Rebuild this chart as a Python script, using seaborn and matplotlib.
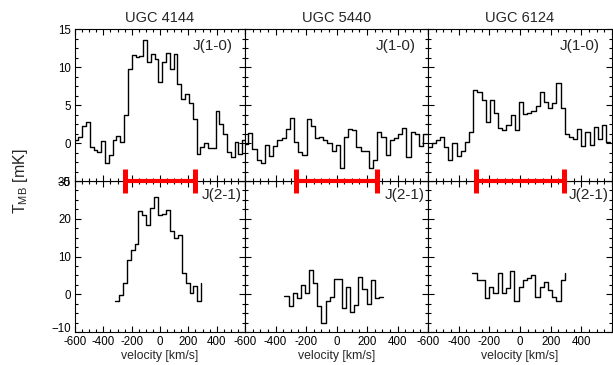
import numpy as np
import pandas as pd
import matplotlib
matplotlib.use("Agg")
import matplotlib.pyplot as plt
import matplotlib.transforms as mtransforms
import seaborn as sns
from matplotlib.ticker import MultipleLocator

# ---------------- data ----------------
galaxies = ["UGC 4144", "UGC 5440", "UGC 6124"]
lines = ["J(1-0)", "J(2-1)"]

# CO(1-0) spectra (mK), channel edges start at v_start with width dv
co10_4144_start, co10_4144_dv = -603, 26.9
co10_4144 = [0.44, 0.8, 2.2, 2.8, -0.5, -0.9, -1.2, 0.3, -2.6, -1.6, 0.4, 0.9, 0.1,
             3.7, 9.7, 11.6, 11.3, 11.4, 13.5, 10.7, 11.7, 11.0, 8.0, 10.6, 11.9, 9.7,
             11.7, 7.8, 5.8, 6.4, 5.2, 3.1, -1.4, -0.5, 0.0, -0.7, -0.7, 4.2, 2.5, 1.2,
             -1.2, -1.9, 0.1, -1.5, 0.4, 0.4]

co10_5440_start, co10_5440_dv = -606, 27.3
co10_5440 = [-0.1, 1.3, -0.75, -2.2, -2.6, -0.2, -1.7, -0.4, 0.35, 0.66, 1.8, 3.35, 0.13,
             -1.2, -1.6, 3.1, 2.2, 0.7, 0.8, 0.35, 0.0, -1.06, -0.2, -3.3, 0.8, 1.9, 1.75,
             -0.5, -1.0, -1.06, -3.3, -2.3, 1.45, 0.8, -1.6, 0.35, 0.7, 1.2, 2.0, -1.8,
             1.45, 1.2, -0.4, 1.2, 1.2]

co10_6124_start, co10_6124_dv = -603, 27.1
co10_6124 = [-0.5, 0.0, 0.44, 0.8, -0.5, -2.2, 0.0, -1.7, -1.0, 0.13, 1.5, 7.0, 6.75, 5.6,
             2.8, 5.6, 3.9, 2.0, 1.7, 2.4, 3.75, 1.7, 5.4, 3.8, 3.9, 4.2, 4.85, 6.75, 5.4,
             4.6, 5.3, 7.85, 4.6, 1.2, 0.8, 0.5, 1.9, -0.4, 1.5, -0.3, 2.1, 0.57, 2.4,
             0.13, 0.13]

# CO(2-1) spectra (mK); the last entry is the level the trace ends on
co21_4144_start, co21_4144_dv = -318, 27.7
co21_4144 = [-1.9, -0.3, 2.9, 9.0, 11.6, 13.3, 22.0, 21.1, 18.3, 22.9, 25.7, 21.0, 21.3,
             22.4, 16.8, 14.9, 15.7, 5.7, 2.9, 0.3, 2.2, -1.7, 2.9]

co21_5440_start, co21_5440_dv = -341, 26.9
co21_5440 = [-0.35, -3.2, 0.43, -1.04, 2.4, 0.26, 6.5, 3.1, -3.0, -7.6, -1.7, -0.6, 4.0,
             4.0, -3.65, 2.0, -4.7, -2.8, 4.6, 1.4, -2.5, 3.7, -1.04, -0.7, -0.7]

co21_6124_start, co21_6124_dv = -310, 27.4
co21_6124 = [5.7, 3.9, 3.9, -1.0, 1.8, 0.26, 5.5, 0.43, 1.6, 6.1, -1.9, 2.0, 3.9, 4.35,
             5.0, -0.6, 2.0, 3.3, 1.1, -0.6, -1.7, 3.7, 5.5]

# velocity range marker (half width, km/s)
bar_halfwidth = [250, 265, 290]

xticks = [-600, -400, -200, 0, 200, 400, 600]
xticklabels = ["-600", "-400", "-200", "0", "200", "400", ""]
yticks_top = [-5, 0, 5, 10, 15]
yticks_bot = [-10, 0, 10, 20, 30]

spectra = {
    ("UGC 4144", "J(1-0)"): (co10_4144_start, co10_4144_dv, co10_4144),
    ("UGC 5440", "J(1-0)"): (co10_5440_start, co10_5440_dv, co10_5440),
    ("UGC 6124", "J(1-0)"): (co10_6124_start, co10_6124_dv, co10_6124),
    ("UGC 4144", "J(2-1)"): (co21_4144_start, co21_4144_dv, co21_4144),
    ("UGC 5440", "J(2-1)"): (co21_5440_start, co21_5440_dv, co21_5440),
    ("UGC 6124", "J(2-1)"): (co21_6124_start, co21_6124_dv, co21_6124),
}

# ---------------- style ----------------
sns.set_style("ticks")
plt.rcParams["font.family"] = ["Liberation Sans", "DejaVu Sans"]
plt.rcParams["mathtext.fontset"] = "custom"
plt.rcParams["mathtext.rm"] = "Liberation Sans"
plt.rcParams["mathtext.it"] = "Liberation Sans"
plt.rcParams.update({
    "xtick.direction": "in", "ytick.direction": "in",
    "xtick.top": True, "ytick.right": True,
    "xtick.major.size": 4, "ytick.major.size": 4,
    "xtick.minor.size": 2, "ytick.minor.size": 2,
    "xtick.major.width": 0.8, "ytick.major.width": 0.8,
    "xtick.minor.width": 0.8, "ytick.minor.width": 0.8,
    "axes.linewidth": 0.8,
    "axes.edgecolor": "black",
    "xtick.color": "black", "ytick.color": "black",
})

W, H = 613, 365
fig = plt.figure(figsize=(W / 100, H / 100), dpi=100)

xpix = [(75, 245), (245, 428), (428, 612)]
ypix = {"J(1-0)": (29, 181), "J(2-1)": (181, 332)}
ylims = {"J(1-0)": (-5, 15), "J(2-1)": (-10, 30)}
yticks = {"J(1-0)": yticks_top, "J(2-1)": yticks_bot}
yminor = {"J(1-0)": 1.25, "J(2-1)": 2.5}

for j, gal in enumerate(galaxies):
    for line in lines:
        x0, x1 = xpix[j]
        yt, yb = ypix[line]
        ax = fig.add_axes([x0 / W, 1 - yb / H, (x1 - x0) / W, (yb - yt) / H])
        v_start, dv, vals = spectra[(gal, line)]
        vals = np.asarray(vals, dtype=float)
        edges = v_start + dv * np.arange(len(vals))
        df = pd.DataFrame({"v": edges, "T": vals})
        sns.lineplot(data=df, x="v", y="T", ax=ax, drawstyle="steps-post",
                     color="black", lw=1.0, estimator=None, sort=False)
        ax.set_xlim(-600, 600)
        ax.set_ylim(*ylims[line])
        ax.set_xticks(xticks)
        ax.xaxis.set_minor_locator(MultipleLocator(50))
        ax.set_yticks(yticks[line])
        ax.yaxis.set_minor_locator(MultipleLocator(yminor[line]))
        ax.tick_params(which="both", top=True, right=True, labelsize=8.3, pad=3)
        ax.set_ylabel("")
        if j > 0:
            ax.set_yticklabels([])
        if line == "J(1-0)":
            ax.set_xticklabels([])
            ax.set_xlabel("")
            ax.set_title(gal, fontsize=10.5, pad=5)
            ax.set_zorder(3)
            ax.annotate(line, xy=(1, 1), xycoords="axes fraction",
                        xytext=(-52 * 0.72, -17 * 0.72), textcoords="offset points",
                        ha="left", va="center", fontsize=11)
            # velocity range marker
            hw = bar_halfwidth[j]
            ax.plot([-hw, hw], [-5, -5], color="red", lw=3.0, clip_on=False,
                    solid_capstyle="butt", zorder=6)
            for xc in (-hw, hw):
                ax.plot([xc, xc], [-6.6, -3.4], color="red", lw=3.6, clip_on=False,
                        solid_capstyle="butt", zorder=6)
        else:
            ax.set_xticklabels(xticklabels)
            ax.set_xlabel("velocity [km/s]", fontsize=8.8, labelpad=1)
            ax.set_zorder(1)
            ax.annotate(line, xy=(1, 1), xycoords="axes fraction",
                        xytext=(-43 * 0.72, -14 * 0.72), textcoords="offset points",
                        ha="left", va="center", fontsize=11, annotation_clip=False)
            if j == 0:
                # lowest y label sits slightly higher, as in the reference
                shift = mtransforms.ScaledTranslation(0, 4 / 100, fig.dpi_scale_trans)
                lab = ax.get_yticklabels()[0]
                lab.set_transform(lab.get_transform() + shift)

fig.text(20 / W, 1 - 181 / H, r"T$_{\mathrm{MB}}$ [mK]", rotation=90,
         ha="center", va="center", fontsize=11.5)

fig.savefig("out.png", dpi=100)
